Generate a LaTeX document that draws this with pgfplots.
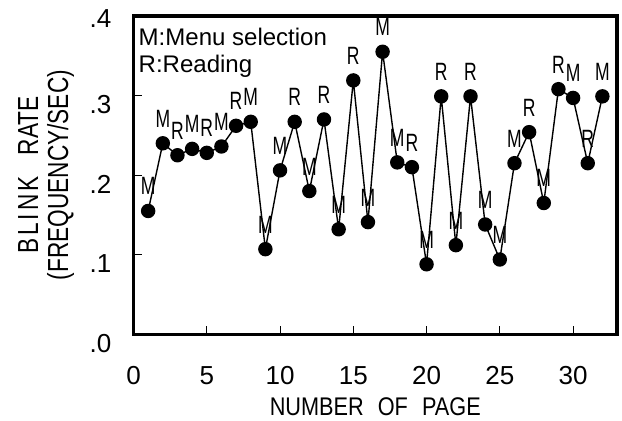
\documentclass[border={18.2pt 4.7pt 3.2pt 14.2pt}]{standalone}
\usepackage{fontspec}
\setmainfont{Liberation Sans}
\newfontfamily\narrowfont[FakeStretch=0.7]{Liberation Sans}
\newfontfamily\ylabfont[FakeStretch=0.78]{Liberation Sans}
\newfontfamily\xlabfont[FakeStretch=0.85]{Liberation Sans}
\usepackage{pgfplots}
\pgfplotsset{compat=1.18}
\usetikzlibrary{calc}

\pgfplotstableread{
x  y     label
1  0.155 M
2  0.240 M
3  0.225 R
4  0.233 M
5  0.228 R
6  0.236 M
7  0.262 R
8  0.267 M
9  0.107 M
10 0.206 M
11 0.267 R
12 0.180 M
13 0.270 R
14 0.132 M
15 0.319 R
16 0.141 M
17 0.355 M
18 0.216 M
19 0.210 R
20 0.088 M
21 0.299 R
22 0.112 M
23 0.299 R
24 0.138 M
25 0.094 M
26 0.215 M
27 0.254 R
28 0.165 M
29 0.308 R
30 0.297 M
31 0.215 R
32 0.299 M
}\blinkdata

\begin{document}
\begin{tikzpicture}
\begin{axis}[
  width=483pt, height=318pt, scale only axis,
  xmin=0, xmax=33, ymin=0, ymax=0.4,
  xtick={0,5,10,15,20,25,30},
  xticklabels={0,5,10,15,20,25,30},
  ytick={0,0.1,0.2,0.3,0.4},
  yticklabels={.0,.1,.2,.3,\raisebox{7pt}[18.6pt][0pt]{.4}},
  tick align=inside, tick pos=left,
  major tick length=8pt,
  tick style={line width=1pt, black},
  separate axis lines,
  axis line style={line width=3.5pt, line cap=rect},
  ticklabel style={font=\fontsize{26}{26}\selectfont, inner sep=0pt},
  xticklabel style={anchor=north, yshift=-32pt},
  yticklabel style={anchor=north east, xshift=-22pt},
  xlabel={NUMBER\hspace{14pt}OF\hspace{14pt}PAGE},
  ylabel={B\kern3pt L\kern3pt I\kern3pt N\kern3pt K\hspace{21pt}RATE\\(FREQUENCY/SEC)},
  every axis x label/.style={at={(rel axis cs:0.5,0)}, anchor=north,
    yshift=-63pt, font=\fontsize{25.5}{25.5}\xlabfont, inner sep=0pt},
  every axis y label/.style={at={($(rel axis cs:0,0.5)+(-59pt,0pt)$)},
    rotate=90, anchor=south, align=center,
    font=\fontsize{29}{30}\ylabfont, inner sep=0pt},
  clip=false,
]
\addplot[black, line width=1.4pt, mark=*, mark size=6.5pt,
  mark options={fill=black, solid},
  nodes near coords, point meta=explicit symbolic,
  every node near coord/.append style={font=\fontsize{25}{25}\narrowfont,
    anchor=base, inner sep=0pt, yshift=16pt, text=black}]
  table[x=x, y=y, meta=label] {\blinkdata};
\node[anchor=north west, inner sep=0pt, align=left,
  font=\fontsize{24}{27}\selectfont, xshift=5pt, yshift=-11.5pt]
  at (rel axis cs:0,1) {M:Menu selection\\R:Reading};
\end{axis}
\end{tikzpicture}
\end{document}
